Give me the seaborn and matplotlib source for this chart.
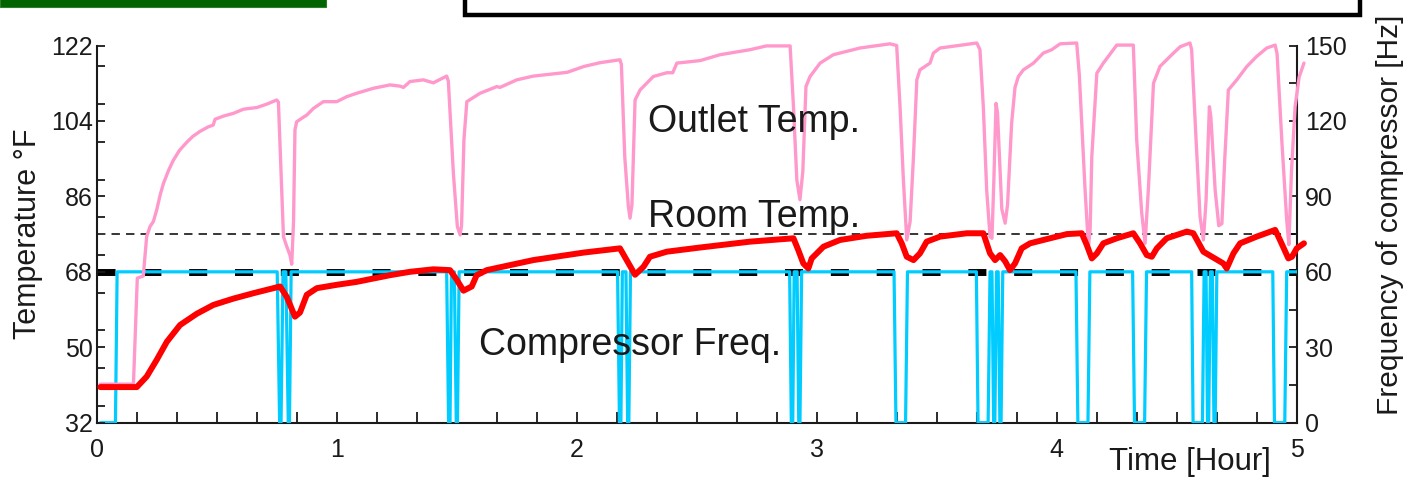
import matplotlib
matplotlib.use("Agg")
import matplotlib.pyplot as plt
from matplotlib.patches import Rectangle
from matplotlib.ticker import MultipleLocator
from matplotlib.transforms import blended_transform_factory
import pandas as pd
import seaborn as sns

# ---------------- data ----------------
# Outlet air temperature [°F] vs time [hour]
outlet_time = [
    0.015, 0.153, 0.169, 0.194, 0.208, 0.222, 0.236, 0.25, 0.265, 0.278, 0.30, 0.319,
    0.345, 0.375, 0.40, 0.43, 0.465, 0.485, 0.493, 0.53, 0.569, 0.611, 0.667, 0.708,
    0.75, 0.757, 0.771, 0.778, 0.792, 0.805, 0.8125, 0.82, 0.826, 0.833, 0.861, 0.875,
    0.903, 0.944, 1.0, 1.042, 1.083, 1.118, 1.153, 1.222, 1.264, 1.278, 1.305, 1.361,
    1.4025, 1.458, 1.465, 1.486, 1.5025, 1.514, 1.52, 1.53, 1.542, 1.597, 1.667, 1.68,
    1.75, 1.819, 1.93, 1.96, 2.03, 2.097, 2.18, 2.186, 2.20, 2.215, 2.222, 2.23, 2.243,
    2.264, 2.319, 2.375, 2.40, 2.417, 2.514, 2.597, 2.722, 2.79, 2.889, 2.903, 2.917,
    2.93, 2.942, 2.955, 2.972, 3.014, 3.069, 3.18, 3.305, 3.333, 3.347, 3.361, 3.375,
    3.389, 3.403, 3.417, 3.43, 3.472, 3.486, 3.514, 3.667, 3.68, 3.694, 3.708, 3.722,
    3.73, 3.738, 3.747, 3.753, 3.771, 3.785, 3.795, 3.812, 3.826, 3.840, 3.861, 3.903,
    3.944, 3.979, 4.014, 4.083, 4.094, 4.118, 4.132, 4.139, 4.146, 4.167, 4.194, 4.236,
    4.25, 4.319, 4.333, 4.354, 4.368, 4.382, 4.403, 4.43, 4.472, 4.514, 4.555, 4.562,
    4.58, 4.597, 4.611, 4.622, 4.636, 4.642, 4.66, 4.675, 4.688, 4.70, 4.715, 4.75,
    4.792, 4.833, 4.875, 4.91, 4.918, 4.9375, 4.958, 4.967, 4.978, 4.993, 5.01, 5.03,
]
outlet_temp = [
    41.2, 41.2, 66.5, 67.0, 76.4, 78.8, 80.0, 82.8, 86.5, 89.1, 92.3, 94.6,
    97.0, 98.9, 100.3, 101.5, 102.6, 103.0, 104.4, 105.2, 105.8, 106.8, 107.2, 108.0,
    109.0, 108.5, 87.0, 76.4, 74.0, 72.0, 69.8, 80.0, 101.9, 103.8, 104.9, 105.4,
    107.0, 108.6, 108.6, 109.8, 110.6, 111.2, 111.8, 112.6, 112.3, 112.0, 113.4, 113.8,
    113.1, 114.7, 113.5, 91.5, 78.8, 76.8, 79.0, 99.5, 108.6, 110.6, 112.2, 112.0,
    113.8, 114.7, 115.4, 115.6, 117.0, 117.9, 118.6, 117.5, 95.5, 83.6, 80.8, 84.0, 109.0,
    111.4, 114.6, 115.5, 115.5, 117.8, 118.4, 119.8, 121.0, 121.9, 121.9, 107.4, 89.9,
    85.2, 92.0, 112.2, 114.6, 117.8, 119.8, 121.4, 122.4, 122.0, 107.4, 89.9, 75.6,
    80.0, 95.5, 113.8, 116.2, 117.8, 120.2, 121.4, 122.6, 121.0, 107.4, 87.5, 76.4,
    76.0, 90.0, 108.2, 106.0, 83.0, 79.6, 84.0, 103.5, 112.0, 114.6, 116.2, 117.8,
    120.2, 121.0, 122.4, 122.6, 115.0, 87.5, 74.0, 78.0, 95.5, 115.4, 117.8, 121.0,
    122.1, 122.1, 99.5, 82.0, 74.8, 88.0, 113.0, 117.0, 119.4, 121.7, 122.6, 121.0,
    100.0, 81.2, 75.6, 85.0, 107.4, 105.0, 87.5, 79.0, 79.5, 95.0, 111.4, 113.8,
    117.0, 119.4, 121.4, 122.1, 120.0, 99.5, 80.4, 74.5, 92.0, 107.4, 114.5, 117.8,
]

# Room temperature [°F] vs time [hour]
room_time = [
    0.015, 0.167, 0.208, 0.25, 0.292, 0.347, 0.417, 0.486, 0.569, 0.653, 0.764, 0.792,
    0.826, 0.847, 0.875, 0.917, 1.0, 1.083, 1.222, 1.305, 1.4025, 1.472, 1.5, 1.528,
    1.5625, 1.583, 1.625, 1.819, 2.03, 2.18, 2.208, 2.243, 2.278, 2.305, 2.375, 2.514,
    2.722, 2.903, 2.923, 2.944, 2.965, 2.979, 3.028, 3.097, 3.208, 3.333, 3.354, 3.375,
    3.403, 3.43, 3.458, 3.514, 3.625, 3.694, 3.722, 3.743, 3.764, 3.785, 3.805, 3.826,
    3.854, 3.889, 3.972, 4.042, 4.104, 4.125, 4.146, 4.167, 4.194, 4.25, 4.319, 4.347,
    4.375, 4.396, 4.417, 4.458, 4.542, 4.569, 4.611, 4.694, 4.708, 4.736, 4.764, 4.833,
    4.91, 4.93, 4.965, 4.98, 5.0, 5.03,
]
room_temp = [
    40.5, 40.5, 43.0, 47.0, 51.3, 55.3, 58.0, 60.1, 61.6, 62.9, 64.5, 62.0,
    57.3, 58.3, 62.5, 64.1, 64.9, 65.6, 67.2, 68.0, 68.6, 68.4, 66.1, 63.5,
    64.5, 67.2, 68.4, 70.8, 72.6, 73.6, 70.8, 67.3, 69.2, 71.6, 72.8, 73.8,
    75.2, 76.0, 73.2, 70.0, 68.8, 71.2, 74.0, 75.6, 76.6, 77.2, 74.8, 71.6,
    70.8, 72.4, 75.2, 76.4, 77.2, 77.2, 72.4, 70.8, 72.0, 70.5, 68.4, 70.0,
    73.6, 74.8, 76.0, 77.0, 77.2, 74.4, 71.2, 72.4, 74.8, 76.0, 77.2, 74.8,
    72.0, 71.6, 73.6, 76.0, 77.6, 77.2, 72.8, 70.0, 68.8, 72.4, 74.8, 76.4,
    78.0, 75.6, 71.2, 71.6, 73.6, 74.8,
]

# Compressor frequency [Hz] vs time [hour]
comp_time = [
    0.015, 0.078, 0.085, 0.752, 0.762, 0.768, 0.776, 0.788, 0.798, 0.803, 0.81,
    1.458, 1.466, 1.472, 1.478, 1.49, 1.498, 1.503, 1.51,
    2.17, 2.178, 2.184, 2.19, 2.205, 2.212, 2.217, 2.224,
    2.887, 2.894, 2.90, 2.906, 2.918, 2.925, 2.93, 2.937,
    3.322, 3.33, 3.37, 3.378,
    3.665, 3.672, 3.714, 3.722, 3.73, 3.737, 3.742, 3.749, 3.756, 3.763, 3.768, 3.775,
    4.08, 4.088, 4.13, 4.138,
    4.316, 4.324, 4.366, 4.374,
    4.562, 4.568, 4.607, 4.614, 4.622, 4.628, 4.633, 4.64, 4.648, 4.655, 4.66, 4.667,
    4.90, 4.907, 4.95, 4.958, 5.0,
]
comp_freq = [
    0, 0, 60, 60, 0, 0, 60, 60, 0, 0, 60,
    60, 0, 0, 60, 60, 0, 0, 60,
    60, 0, 0, 60, 60, 0, 0, 60,
    60, 0, 0, 60, 60, 0, 0, 60,
    60, 0, 0, 60,
    60, 0, 0, 60, 60, 0, 0, 60, 60, 0, 0, 60,
    60, 0, 0, 60,
    60, 0, 0, 60,
    60, 0, 0, 60, 60, 0, 0, 60, 60, 0, 0, 60,
    60, 0, 0, 60, 60,
]

# Reference temperature levels [°F]
room_target_f = 77
setpoint_f = 68

temp_ticks = [32, 50, 68, 86, 104, 122]
freq_ticks = [0, 30, 60, 90, 120, 150]
hour_ticks = [0, 1, 2, 3, 4, 5]

outlet_df = pd.DataFrame({"hour": outlet_time, "temp": outlet_temp})
room_df = pd.DataFrame({"hour": room_time, "temp": room_temp})
comp_df = pd.DataFrame({"hour": comp_time, "freq": comp_freq})

# ---------------- style ----------------
sns.set_theme(style="ticks")
plt.rcParams["font.family"] = ["Liberation Sans", "DejaVu Sans"]

PINK = "#ff99cc"
RED = "#ff0000"
CYAN = "#00ccff"
INK = "#1a1a1a"

fig = plt.figure(figsize=(14.08, 4.78), dpi=100)
fig.patch.set_facecolor("white")

# frequency axis underneath, temperature axis on top
ax_f = fig.add_axes([0.0687, 0.1157, 0.8523, 0.7891])
ax_t = ax_f.twinx()
ax_f.yaxis.tick_right()
ax_f.yaxis.set_label_position("right")
ax_t.yaxis.tick_left()
ax_t.yaxis.set_label_position("left")

# horizontal reference levels (temperature coordinates), under the traces
level_tf = blended_transform_factory(ax_f.transAxes, ax_t.transData)
ax_f.plot([0, 1], [room_target_f, room_target_f], transform=level_tf,
          color="black", lw=1.1, dashes=(5.5, 4), zorder=1)
ax_f.plot([0, 1], [setpoint_f, setpoint_f], transform=level_tf,
          color="black", lw=5.0, dashes=(2.6, 4.0), zorder=1)

sns.lineplot(data=comp_df, x="hour", y="freq", ax=ax_f, color=CYAN, lw=2.3,
             estimator=None, sort=False, legend=False, zorder=3)
sns.lineplot(data=outlet_df, x="hour", y="temp", ax=ax_t, color=PINK, lw=2.4,
             estimator=None, sort=False, legend=False, zorder=3)
sns.lineplot(data=room_df, x="hour", y="temp", ax=ax_t, color=RED, lw=4.3,
             estimator=None, sort=False, legend=False, zorder=4)
for ln in ax_t.lines:
    ln.set_clip_on(False)

# ---------------- axes ----------------
ax_f.set_xlim(0, 5)
ax_f.set_ylim(0, 150)
ax_t.set_ylim(32, 122)

for ax in (ax_f, ax_t):
    for s in ax.spines.values():
        s.set_visible(False)
ax_f.spines["bottom"].set_visible(True)
ax_f.spines["right"].set_visible(True)
ax_t.spines["left"].set_visible(True)
for s in (ax_f.spines["bottom"], ax_f.spines["right"], ax_t.spines["left"]):
    s.set_linewidth(1.5)
    s.set_color(INK)

ax_f.set_xticks(hour_ticks)
ax_f.xaxis.set_minor_locator(MultipleLocator(1 / 6))
ax_f.set_yticks(freq_ticks)
ax_f.yaxis.set_minor_locator(MultipleLocator(15))
ax_t.set_yticks(temp_ticks)
ax_t.yaxis.set_minor_locator(MultipleLocator(9))

ax_f.tick_params(axis="x", which="both", direction="in", length=8, width=1.3,
                 color=INK, labelsize=18, labelcolor=INK, pad=11, top=False)
ax_f.tick_params(axis="y", which="both", direction="in", length=6, width=1.3,
                 color=INK, labelsize=18, labelcolor=INK, pad=6,
                 left=False, right=True, labelleft=False, labelright=True)
ax_t.tick_params(axis="y", which="both", direction="in", length=6, width=1.3,
                 color=INK, labelsize=18, labelcolor=INK, pad=3,
                 right=False, left=True, labelright=False, labelleft=True)

ax_t.set_ylabel("Temperature °F", fontsize=22, color=INK, va="center")
ax_t.yaxis.set_label_coords(-0.057, 0.5)
ax_f.set_ylabel("Frequency of compressor [Hz]", fontsize=21.5, color=INK,
                rotation=90, va="center")
ax_f.yaxis.set_label_coords(1.078, 0.55)
ax_f.set_xlabel("Time [Hour]", fontsize=22.5, color=INK, va="center")
ax_f.xaxis.set_label_coords(0.911, -0.104)

# series captions
ax_t.text(2.297, 101.3, "Outlet Temp.", fontsize=27, color=INK,
          ha="left", va="baseline")
ax_t.text(2.297, 78.6, "Room Temp.", fontsize=27, color=INK,
          ha="left", va="baseline")
ax_t.text(1.592, 48.2, "Compressor Freq.", fontsize=27, color=INK,
          ha="left", va="baseline")

# header decorations at the top edge
W, H = 1408, 478
fig.add_artist(Rectangle((0, 1 - 7 / H), 326 / W, 0.05, transform=fig.transFigure,
                         facecolor="#006400", edgecolor="#2e7d2e", lw=0.8,
                         clip_on=False))
fig.add_artist(Rectangle((465 / W, 1 - 14.5 / H), 895 / W, 0.1,
                         transform=fig.transFigure, facecolor="white",
                         edgecolor="black", lw=3.2, clip_on=False))

fig.savefig("out.png", dpi=100)
